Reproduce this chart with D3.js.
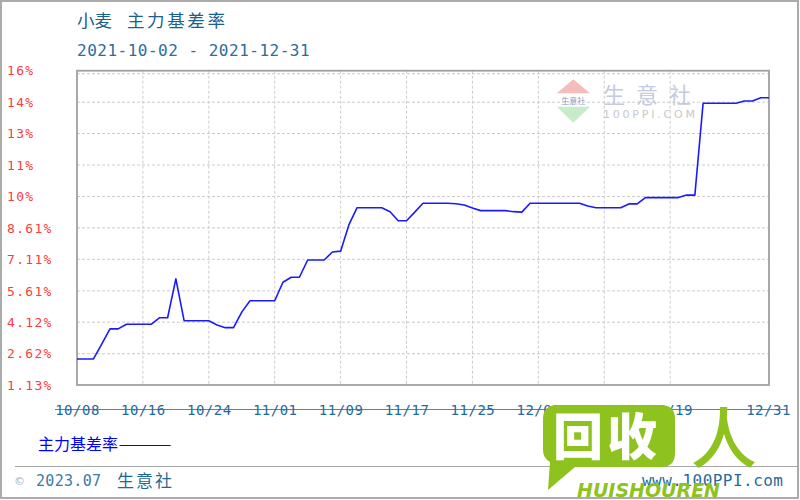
<!DOCTYPE html>
<html>
<head>
<meta charset="utf-8">
<script src="https://cdn.jsdelivr.net/npm/d3@7"></script>
<style>
  body { margin: 0; background: #fff; }
  svg { display: block; }
</style>
</head>
<body>
<div id="chart"></div>
<script>
// wheat main basis rate, daily
const startDate = '2021-10-08'
const endDate = '2021-12-31'
const basisRate = [
  2.37, 2.37, 2.37, 3.08, 3.80, 3.80, 4.02, 4.02, 4.02, 4.02,
  4.33, 4.33, 6.18, 4.19, 4.19, 4.19, 4.19, 3.99, 3.86, 3.86,
  4.60, 5.14, 5.14, 5.14, 5.14, 6.02, 6.26, 6.26, 7.08, 7.08,
  7.08, 7.46, 7.50, 8.75, 9.57, 9.57, 9.57, 9.57, 9.38, 8.95,
  8.95, 9.36, 9.78, 9.78, 9.78, 9.78, 9.76, 9.70, 9.55, 9.43,
  9.43, 9.43, 9.43, 9.38, 9.36, 9.78, 9.78, 9.78, 9.78, 9.78,
  9.78, 9.78, 9.65, 9.57, 9.57, 9.57, 9.57, 9.75, 9.75, 10.05,
  10.05, 10.05, 10.05, 10.05, 10.17, 10.17, 14.54, 14.54, 14.54, 14.54,
  14.54, 14.65, 14.65, 14.80, 14.80
]

const yTickValues = [1.13, 2.62, 4.12, 5.61, 7.11, 8.61, 10.1, 11.6, 13.1, 14.59, 16.09]
const yTickLabels = ['1.13%', '2.62%', '4.12%', '5.61%', '7.11%', '8.61%', '10%', '11%', '13%', '14%', '16%']

const xTickDates = ['2021-10-08', '2021-10-16', '2021-10-24', '2021-11-01', '2021-11-09',
  '2021-11-17', '2021-11-25', '2021-12-03', '2021-12-11', '2021-12-19', '2021-12-31']
const xTickLabels = ['10/08', '10/16', '10/24', '11/01', '11/09',
  '11/17', '11/25', '12/03', '12/11', '12/19', '12/31']

const product = '小麦'
const indicator = '主力基差率'
const subtitle = '2021-10-02 - 2021-12-31'

// layout
const width = 800
const height = 500
const plot = { left: 77, right: 769, top: 70.7, bottom: 385 }
const monoFont = '"DejaVu Sans Mono", monospace'
const cjkFont = '"Noto Sans CJK SC", sans-serif'

const parse = d3.timeParse('%Y-%m-%d')
const days = d3.timeDay.range(parse(startDate), d3.timeDay.offset(parse(endDate), 1))
const dataset = basisRate.map((v, i) => ({ date: days[i], value: v }))

const xScale = d3.scaleTime()
  .domain([parse(startDate), parse(endDate)])
  .range([plot.left, plot.right])

const yScale = d3.scaleLinear()
  .domain([yTickValues[0], yTickValues[yTickValues.length - 1]])
  .range([plot.bottom, plot.top])

const svg = d3.select('#chart')
  .append('svg')
  .attr('width', width)
  .attr('height', height)

// outer frame
svg.append('rect')
  .attr('x', 1).attr('y', 1)
  .attr('width', width - 3).attr('height', height - 3)
  .attr('fill', '#fff')
  .attr('stroke', '#ababab')
  .attr('stroke-width', 2)

// titles
const t = svg.append('text')
  .attr('y', 27)
  .attr('font-family', cjkFont)
  .attr('font-size', 17.5)
  .attr('fill', '#1b5f8c')
t.append('tspan').attr('x', 77).text(product)
t.append('tspan').attr('x', 127).attr('letter-spacing', 2.6).text(indicator)

svg.append('text')
  .attr('x', 77).attr('y', 56)
  .attr('font-family', monoFont)
  .attr('font-size', 16)
  .attr('letter-spacing', 0.5)
  .attr('fill', '#2a6e9c')
  .text(subtitle)

// watermark inside plot
const wm = svg.append('g')
wm.append('path')
  .attr('d', 'M556.7,93.3 L573.3,79.3 L590,93.3 Z')
  .attr('fill', '#f5bcbc')
wm.append('path')
  .attr('d', 'M556.7,106.7 L573.3,122.7 L590,106.7 Z')
  .attr('fill', '#c6ecca')
wm.append('text')
  .attr('x', 573.3).attr('y', 103.5)
  .attr('text-anchor', 'middle')
  .attr('font-family', cjkFont)
  .attr('font-size', 8)
  .attr('fill', '#8a97c4')
  .text('生意社')
wm.append('text')
  .attr('x', 603).attr('y', 103)
  .attr('font-family', cjkFont)
  .attr('font-size', 22)
  .attr('letter-spacing', 11)
  .attr('fill', '#c4cbe3')
  .text('生意社')
wm.append('text')
  .attr('x', 603).attr('y', 118)
  .attr('font-family', '"DejaVu Sans", sans-serif')
  .attr('font-size', 11)
  .attr('textLength', 92)
  .attr('fill', '#c8c8c8')
  .text('100PPI.COM')

// grid
const grid = svg.append('g')
  .attr('stroke', '#cccccc')
  .attr('stroke-dasharray', '3,2')
  .attr('stroke-width', 1)

// horizontal: skip the bottom one, nudge the top one just under the border
grid.selectAll('line.h')
  .data(yTickValues.slice(1))
  .enter()
  .append('line')
  .attr('x1', plot.left).attr('x2', plot.right)
  .attr('y1', (d, i, n) => yScale(d) + (i === n.length - 1 ? 3 : 0))
  .attr('y2', (d, i, n) => yScale(d) + (i === n.length - 1 ? 3 : 0))

grid.selectAll('line.v')
  .data(xTickDates.slice(1, -1))
  .enter()
  .append('line')
  .attr('x1', d => xScale(parse(d))).attr('x2', d => xScale(parse(d)))
  .attr('y1', plot.top).attr('y2', plot.bottom)

// plot border
svg.append('rect')
  .attr('x', plot.left).attr('y', plot.top)
  .attr('width', plot.right - plot.left)
  .attr('height', plot.bottom - plot.top)
  .attr('fill', 'none')
  .attr('stroke', '#a0a0a0')
  .attr('stroke-width', 1.8)

// line
const line = d3.line()
  .x(d => xScale(d.date))
  .y(d => yScale(d.value))

svg.append('path')
  .datum(dataset)
  .attr('d', line)
  .attr('fill', 'none')
  .attr('stroke', '#1a1aff')
  .attr('stroke-width', 1.6)
  .attr('stroke-linejoin', 'round')

// y axis labels (left aligned, red)
const yAxis = d3.axisLeft(yScale)
  .tickValues(yTickValues)
  .tickSize(0)
  .tickFormat((d, i) => yTickLabels[i])

const yg = svg.append('g')
  .attr('transform', `translate(${plot.left}, 0)`)
  .call(yAxis)
yg.select('.domain').remove()
yg.selectAll('text')
  .attr('x', 7 - plot.left)
  .attr('text-anchor', 'start')
  .attr('font-family', monoFont)
  .attr('font-size', 13)
  .attr('letter-spacing', 1.3)
  .attr('fill', '#ff3b3b')

// green rule behind x labels
svg.append('line')
  .attr('x1', 55).attr('x2', 787)
  .attr('y1', 409.5).attr('y2', 409.5)
  .attr('stroke', '#3f9a6c')
  .attr('stroke-width', 1.2)

// x axis labels
const xAxis = d3.axisBottom(xScale)
  .tickValues(xTickDates.map(parse))
  .tickSize(0)
  .tickFormat((d, i) => xTickLabels[i])

const xg = svg.append('g')
  .attr('transform', `translate(0, 404)`)
  .call(xAxis)
xg.select('.domain').remove()
xg.selectAll('text')
  .attr('y', 0)
  .attr('dy', '0.8em')
  .attr('font-family', monoFont)
  .attr('font-size', 14)
  .attr('letter-spacing', 0.5)
  .attr('fill', '#1f6b9c')
xg.selectAll('.tick').filter((d, i) => i === xTickDates.length - 1)
  .select('text').attr('dx', -1)

// legend
svg.append('text')
  .attr('x', 38).attr('y', 450)
  .attr('font-family', cjkFont)
  .attr('font-size', 16)
  .attr('fill', '#0000ff')
  .text(indicator)
svg.append('text')
  .attr('x', 118).attr('y', 450)
  .attr('font-family', cjkFont)
  .attr('font-size', 16)
  .attr('textLength', 54)
  .attr('lengthAdjust', 'spacingAndGlyphs')
  .attr('fill', '#0000ff')
  .text('——')

// footer
svg.append('line')
  .attr('x1', 15).attr('x2', 799)
  .attr('y1', 466.5).attr('y2', 466.5)
  .attr('stroke', '#a8a8a8')
  .attr('stroke-width', 1)

svg.append('text')
  .attr('x', 14).attr('y', 485)
  .attr('font-family', '"DejaVu Sans", sans-serif')
  .attr('font-size', 11)
  .attr('fill', '#9ab3c4')
  .text('©')
svg.append('text')
  .attr('x', 36).attr('y', 486)
  .attr('font-family', monoFont)
  .attr('font-size', 15)
  .attr('letter-spacing', 0.3)
  .attr('fill', '#3a7ca3')
  .text('2023.07')
svg.append('text')
  .attr('x', 117).attr('y', 487)
  .attr('font-family', cjkFont)
  .attr('font-size', 17)
  .attr('letter-spacing', 2)
  .attr('fill', '#1e6a92')
  .text('生意社')
svg.append('text')
  .attr('x', 642).attr('y', 486)
  .attr('font-family', monoFont)
  .attr('font-size', 16)
  .attr('textLength', 141)
  .attr('fill', '#2a6a9a')
  .text('www.100PPI.com')

// overlay logo (bottom right)
const logo = svg.append('g')
logo.append('path')
  .attr('d', 'M557,405 H661 Q675,405 675,419 V453 Q675,467 661,467 H575 L548,490 L550,462 Q543,458 543,450 V419 Q543,405 557,405 Z')
  .attr('fill', '#8dc21f')
logo.append('text')
  .attr('x', 553).attr('y', 455)
  .attr('font-family', cjkFont)
  .attr('font-weight', 900)
  .attr('font-size', 50)
  .attr('letter-spacing', 4)
  .attr('fill', '#fff')
  .text('回收')
logo.append('text')
  .attr('x', 691).attr('y', 463)
  .attr('font-family', cjkFont)
  .attr('font-weight', 500)
  .attr('font-size', 66)
  .attr('fill', '#8dc21f')
  .text('人')
logo.append('text')
  .attr('x', 577).attr('y', 497)
  .attr('font-family', '"DejaVu Sans", sans-serif')
  .attr('font-weight', 'bold')
  .attr('font-style', 'italic')
  .attr('font-size', 19)
  .attr('textLength', 143)
  .attr('lengthAdjust', 'spacingAndGlyphs')
  .attr('fill', '#8dc21f')
  .text('HUISHOUREN')
</script>
</body>
</html>
